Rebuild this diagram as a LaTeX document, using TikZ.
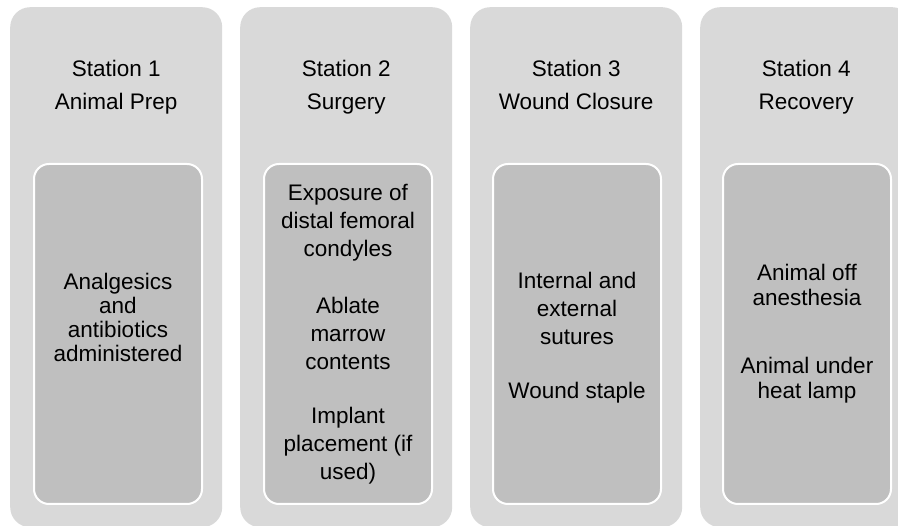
\documentclass[tikz,border=0pt]{standalone}
\usepackage{fontspec}
\setmainfont{Liberation Sans}
\usepackage{tikz}
\usetikzlibrary{positioning}

\definecolor{colgray}{HTML}{D9D9D9}
\definecolor{boxgray}{HTML}{BFBFBF}

\begin{document}
\begin{tikzpicture}[x=1pt,y=-1pt,
  column/.style={rectangle, rounded corners=20pt, fill=colgray, draw=none, minimum width=212pt, minimum height=520pt, anchor=north west, inner sep=0pt},
  stepbox/.style={rectangle, rounded corners=15pt, fill=boxgray, draw=white, line width=2pt, minimum width=168pt, minimum height=340pt, anchor=north west, inner sep=0pt},
  title/.style={align=center, anchor=north, font=\fontsize{22.5}{33}\selectfont, text=black, inner sep=0pt},
  steptext/.style={align=center, font=\fontsize{22.5}{28}\selectfont, text=black, inner sep=0pt},
]
\useasboundingbox (0,0) rectangle (898,526);
\clip (0,0) rectangle (898,526);

% --- column left edges and shared heights ---
\def\xA{10}\def\xB{240}\def\xC{470}\def\xD{700}
\def\yCol{7}\def\yBox{163}
\def\yTitle{53}

% --- outer columns ---
\node[column] (colA) at (\xA,\yCol) {};
\node[column] (colB) at (\xB,\yCol) {};
\node[column] (colC) at (\xC,\yCol) {};
\node[column] (colD) at (\xD,\yCol) {};

% --- inner boxes ---
\node[stepbox] (boxA) at (\xA+23,\yBox) {};
\node[stepbox] (boxB) at (\xB+23,\yBox) {};
\node[stepbox] (boxC) at (\xC+22,\yBox) {};
\node[stepbox] (boxD) at (\xD+22,\yBox) {};

% --- station titles (struts keep both lines on the same baselines) ---
\node[title] (titleA) at (colA.north |- 0,\yTitle) {\strut Station 1\\Animal Prep\strut};
\node[title] (titleB) at (colB.north |- 0,\yTitle) {\strut Station 2\\Surgery\strut};
\node[title] (titleC) at (colC.north |- 0,\yTitle) {\strut Station 3\\Wound Closure\strut};
\node[title] (titleD) at (colD.north |- 0,\yTitle) {\strut Station 4\\Recovery\strut};

% --- box contents (shifted a little where the text sits off centre) ---
\node[steptext, font=\fontsize{22.5}{24}\selectfont] (textA) at ([yshift=17pt]boxA.center)
  {Analgesics\\and\\antibiotics\\administered};
\node[steptext] (textB) at (boxB.center)
  {Exposure of\\distal femoral\\condyles\\[29pt]Ablate\\marrow\\contents\\[26pt]Implant\\placement (if\\used)};
\node[steptext] (textC) at ([yshift=-4pt]boxC.center)
  {Internal and\\external\\sutures\\[26pt]Wound staple};
\node[steptext, font=\fontsize{22.5}{25}\selectfont] (textD) at (boxD.center)
  {Animal off\\anesthesia\\[43pt]Animal under\\heat lamp};

\end{tikzpicture}
\end{document}
